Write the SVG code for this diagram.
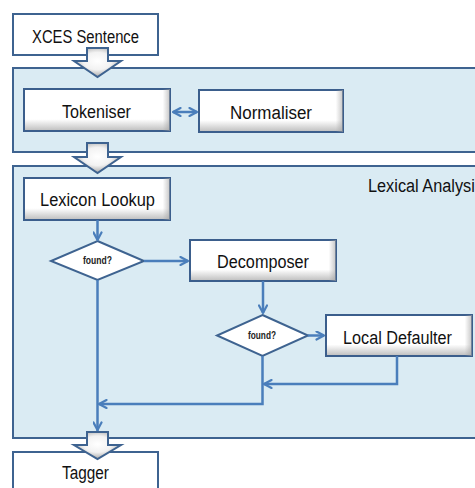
<svg xmlns="http://www.w3.org/2000/svg" width="475" height="488" viewBox="0 0 475 488">
  <defs>
    <style>
      .cont { fill: #DAEBF3; stroke: #3E6390; stroke-width: 2; }
      .plain { fill: #FFFFFF; stroke: #3E6390; stroke-width: 2; }
      .box { fill: url(#boxv); stroke: #3B5E8C; stroke-width: 2; }
      .boxh { fill: url(#boxh); stroke: none; }
      .dia { fill: #FFFFFF; stroke: #3E6390; stroke-width: 2; }
      .barrow { fill: url(#barg); stroke: #3E6390; stroke-width: 2; stroke-linejoin: miter; }
      .conn { fill: none; stroke: #4A7EBB; stroke-width: 2.5; }
      .lbl { font-family: "Liberation Sans", Arial, sans-serif; font-size: 18px; fill: #111111; text-anchor: middle; }
      .q { font-family: "Liberation Sans", Arial, sans-serif; font-size: 10px; font-weight: bold; fill: #222222; text-anchor: middle; }
    </style>
    <linearGradient id="boxv" x1="0" y1="0" x2="0" y2="1">
      <stop offset="0" stop-color="#FFFFFF"/>
      <stop offset="0.72" stop-color="#FFFFFF"/>
      <stop offset="1" stop-color="#BDBDBD"/>
    </linearGradient>
    <linearGradient id="boxh" x1="0" y1="0" x2="1" y2="0">
      <stop offset="0" stop-color="#A0A0A0" stop-opacity="0"/>
      <stop offset="0.95" stop-color="#A0A0A0" stop-opacity="0"/>
      <stop offset="1" stop-color="#A0A0A0" stop-opacity="0.6"/>
    </linearGradient>
    <radialGradient id="barg" cx="0.5" cy="0.45" r="0.6">
      <stop offset="0" stop-color="#FFFFFF"/>
      <stop offset="0.5" stop-color="#F2F2F2"/>
      <stop offset="1" stop-color="#9A9A9A"/>
    </radialGradient>
    <marker id="ah" viewBox="0 0 10 10" refX="9" refY="5" markerWidth="10" markerHeight="10" markerUnits="userSpaceOnUse" orient="auto-start-reverse">
      <path d="M1.5,1 L9,5 L1.5,9" fill="none" stroke="#4A7EBB" stroke-width="2.2" stroke-linecap="round" stroke-linejoin="round"/>
    </marker>
  </defs>

  <rect width="475" height="488" fill="#FFFFFF"/>

  <!-- containers -->
  <g id="preprocessing">
    <rect class="cont" x="13" y="68" width="470" height="84"/>
  </g>
  <g id="lexical-analysis">
    <rect class="cont" x="13" y="166" width="470" height="272"/>
    <text class="lbl" x="368" y="192" text-anchor="start" style="text-anchor:start" textLength="115" lengthAdjust="spacingAndGlyphs">Lexical Analysis</text>
  </g>

  <!-- nodes -->
  <g id="xces-sentence">
    <rect class="plain" x="13" y="14" width="145" height="41"/>
    <text class="lbl" x="85.5" y="43" textLength="107" lengthAdjust="spacingAndGlyphs">XCES Sentence</text>
  </g>
  <g id="tagger">
    <rect class="plain" x="13" y="452" width="145" height="44"/>
    <text class="lbl" x="85.5" y="479" textLength="47" lengthAdjust="spacingAndGlyphs">Tagger</text>
  </g>

  <g id="tokeniser">
    <rect class="box" x="24" y="89" width="146" height="42"/>
    <rect class="boxh" x="24" y="89" width="146" height="42"/>
    <text class="lbl" x="96.5" y="118" textLength="69" lengthAdjust="spacingAndGlyphs">Tokeniser</text>
  </g>
  <g id="normaliser">
    <rect class="box" x="199" y="90" width="144" height="42"/>
    <rect class="boxh" x="199" y="90" width="144" height="42"/>
    <text class="lbl" x="271" y="119" textLength="82" lengthAdjust="spacingAndGlyphs">Normaliser</text>
  </g>
  <g id="lexicon-lookup">
    <rect class="box" x="24" y="178" width="146" height="42"/>
    <rect class="boxh" x="24" y="178" width="146" height="42"/>
    <text class="lbl" x="97.5" y="206" textLength="115" lengthAdjust="spacingAndGlyphs">Lexicon Lookup</text>
  </g>
  <g id="found1">
    <polygon class="dia" points="97.5,241 144,261 97.5,280 51,261"/>
    <text class="q" x="97.5" y="264" textLength="29" lengthAdjust="spacingAndGlyphs">found?</text>
  </g>
  <g id="decomposer">
    <rect class="box" x="190" y="240" width="146" height="41"/>
    <rect class="boxh" x="190" y="240" width="146" height="41"/>
    <text class="lbl" x="263" y="268" textLength="92" lengthAdjust="spacingAndGlyphs">Decomposer</text>
  </g>
  <g id="found2">
    <polygon class="dia" points="262.5,315 308,335.5 262.5,356 217,335.5"/>
    <text class="q" x="262" y="339" textLength="28" lengthAdjust="spacingAndGlyphs">found?</text>
  </g>
  <g id="local-defaulter">
    <rect class="box" x="326" y="315" width="146" height="41"/>
    <rect class="boxh" x="326" y="315" width="146" height="41"/>
    <text class="lbl" x="397.5" y="344" textLength="109" lengthAdjust="spacingAndGlyphs">Local Defaulter</text>
  </g>

  <!-- connectors -->
  <g id="connectors">
    <path class="conn" d="M97.5,432 L97.5,430" />
    <line class="conn" x1="173" y1="112" x2="197" y2="112" marker-start="url(#ah)" marker-end="url(#ah)"/>
    <path class="conn" d="M97.5,220 L97.5,240" marker-end="url(#ah)"/>
    <path class="conn" d="M144,261 L188,261" marker-end="url(#ah)"/>
    <path class="conn" d="M263,281 L263,313" marker-end="url(#ah)"/>
    <path class="conn" d="M308,335.5 L324,335.5" marker-end="url(#ah)"/>
    <path class="conn" d="M397,356 L397,384 L264,384" marker-end="url(#ah)"/>
    <path class="conn" d="M262.5,356 L262.5,404 L99,404" marker-end="url(#ah)"/>
    <path class="conn" d="M97.5,280 L97.5,430" marker-end="url(#ah)"/>

    <!-- block arrows -->
    <polygon id="flow1" class="barrow" points="87,48 108,48 108,61 121,61 97.5,77 74,61 87,61"/>
    <polygon id="flow2" class="barrow" points="87,143 108,143 108,157 121,157 97.5,173 74,157 87,157"/>
    <polygon id="flow3" class="barrow" points="87,432 108,432 108,445 121,445 97.5,459 74,445 87,445"/>
  </g>
</svg>
